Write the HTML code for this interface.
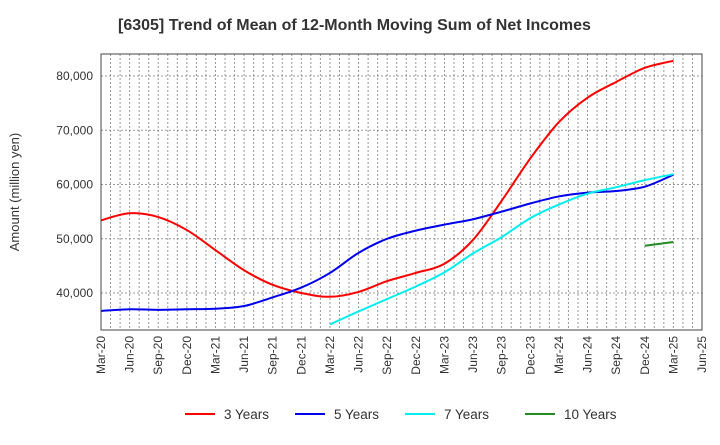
<!DOCTYPE html>
<html><head><meta charset="utf-8"><style>
body{margin:0;background:#fff;font-family:"Liberation Sans",sans-serif;}
svg text{font-family:"Liberation Sans",sans-serif;}
</style></head><body>
<svg id="c" width="720" height="440" xmlns="http://www.w3.org/2000/svg">
<text x="118" y="30" font-size="16" font-weight="bold" fill="#333">[6305]  Trend of Mean of 12-Month Moving Sum of Net Incomes</text>
<text transform="translate(19,192) rotate(-90)" text-anchor="middle" font-size="13" fill="#333">Amount (million yen)</text>
<g id="grid"></g><g id="series"></g><g id="axes"></g><g id="legend"></g>
</svg>
<script>
const xLabels=["Mar-20","Jun-20","Sep-20","Dec-20","Mar-21","Jun-21","Sep-21","Dec-21","Mar-22","Jun-22","Sep-22","Dec-22","Mar-23","Jun-23","Sep-23","Dec-23","Mar-24","Jun-24","Sep-24","Dec-24","Mar-25","Jun-25"];
const yTicks=[40000,50000,60000,70000,80000];
const s3=[53400,54700,54000,51600,47900,44200,41500,40000,39300,40200,42200,43700,45400,49800,57000,64800,71500,76000,78900,81500,82800];
const s5=[36700,37000,36900,37000,37100,37600,39200,41000,43700,47400,50000,51500,52600,53600,55000,56500,57800,58500,58800,59600,61800];
const s7=[null,null,null,null,null,null,null,null,34200,36600,38900,41200,43800,47300,50300,53800,56300,58300,59500,60800,61900];
const s10=[null,null,null,null,null,null,null,null,null,null,null,null,null,null,null,null,null,null,null,48700,49400];
const L=101,R=702,T=54,B=330;
const X=i=>L+i*3*(R-L)/63;
const Y=v=>293-(v-40000)*0.005425;
const NS="http://www.w3.org/2000/svg";
function mk(t,a,p){const e=document.createElementNS(NS,t);for(const k in a)e.setAttribute(k,a[k]);p.appendChild(e);return e;}
const grid=document.getElementById('grid'),axes=document.getElementById('axes'),ser=document.getElementById('series'),leg=document.getElementById('legend');
for(let m=1;m<63;m++){const x=L+m*(R-L)/63;const l=mk('line',{x1:x,x2:x,y1:T,y2:B,stroke:'#999','stroke-dasharray':'2,2','stroke-width':1},grid);

}
yTicks.forEach(v=>{const l=mk('line',{x1:L,x2:R,y1:Y(v),y2:Y(v),stroke:'#999','stroke-dasharray':'2,2'},grid);


const t=mk('text',{x:L-8,y:Y(v)+4,'text-anchor':'end','font-size':12,fill:'#333'},axes);t.textContent=v.toLocaleString('en-US');

});
const fr=mk('rect',{x:L,y:T,width:R-L,height:B-T,fill:'none',stroke:'#444'},axes);


xLabels.forEach((s,i)=>{const t=mk('text',{transform:`translate(${X(i)+4},${B+6}) rotate(-90)`,'text-anchor':'end','font-size':12,fill:'#333'},axes);t.textContent=s;

});
function path(arr){const p=[];arr.forEach((v,i)=>{if(v!=null)p.push([X(i),Y(v)]);});
let d=`M${p[0][0]},${p[0][1]}`;for(let i=0;i<p.length-1;i++){const p0=p[i-1]||p[i],p1=p[i],p2=p[i+1],p3=p[i+2]||p2;
d+=` C${p1[0]+(p2[0]-p0[0])/6},${p1[1]+(p2[1]-p0[1])/6} ${p2[0]-(p3[0]-p1[0])/6},${p2[1]-(p3[1]-p1[1])/6} ${p2[0]},${p2[1]}`;}return d;}
const defs=[[s3,'#ff0000','3 Years','line-3-years',185],[s5,'#0000ee','5 Years','line-5-years',295],[s7,'#00eeee','7 Years','line-7-years',405],[s10,'#228b22','10 Years','line-10-years',525]];
defs.forEach(([a,c,n,id,lx])=>{const e=mk('path',{d:path(a),fill:'none',stroke:c,'stroke-width':2},ser);


const g=mk('g',{},leg);


mk('line',{x1:lx,x2:lx+30,y1:414,y2:414,stroke:c,'stroke-width':2},g);
const t=mk('text',{x:lx+39,y:419,'font-size':13.5,fill:'#333'},g);t.textContent=n;});
</script>
</body></html>
